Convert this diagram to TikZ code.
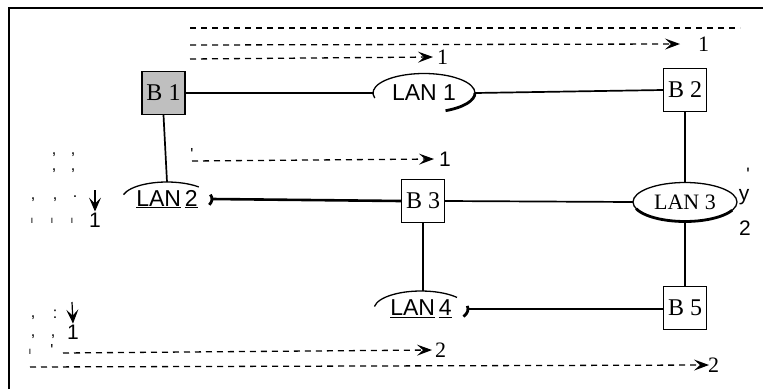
\documentclass[tikz,border=0pt]{standalone}
\usepackage{fontspec}
\setmainfont{Liberation Serif}
\newfontfamily\lsans{Liberation Sans}
\usetikzlibrary{arrows.meta,shapes.geometric}
\begin{document}
\begin{tikzpicture}[x=1pt,y=1pt,
  bridge/.style={draw,line width=1.2pt,minimum width=43pt,minimum height=43pt,inner sep=0pt,font=\fontsize{24}{24}\selectfont},
  lannode/.style={ellipse,inner sep=0pt},
  thinarc/.style={line width=1.3pt},
  thickarc/.style={line width=2.8pt},
  link/.style={line width=1.7pt},
  heavylink/.style={line width=2.6pt},
  dashline/.style={line width=1.3pt,dash pattern=on 6pt off 5pt},
  dasharrow/.style={dashline,-{Stealth[length=15pt,width=11pt,inset=6pt]}},
  numlbl/.style={inner sep=1pt,font=\fontsize{22}{22}\selectfont},
  snumlbl/.style={inner sep=1pt,font=\lsans\fontsize{21}{21}\selectfont},
  speck/.style={inner sep=0pt,font=\lsans\fontsize{16}{16}\selectfont},
  varrow/.style={line width=1.2pt,-{Stealth[length=14pt,width=12pt,inset=6pt]}},
  lanfont/.style={font=\lsans\fontsize{23}{23}\selectfont},
]
\useasboundingbox (0,0) rectangle (763,-389);
% frame
\draw[line width=1.5pt] (9,-389) -- (9,-8) -- (763,-8);

% bridges
\node[bridge,fill=gray!50] (b1) at (163.5,-93) {B 1};
\node[bridge] (b2) at (685,-90) {B 2};
\node[bridge] (b3) at (423,-201) {B 3};
\node[bridge] (b5) at (685,-308) {B 5};

% LANs
\node[lannode,lanfont,minimum width=102pt,minimum height=39pt] (lan1) at (424,-93) {LAN 1};
\node[lannode,lanfont,minimum width=90pt,minimum height=34pt] (lan2) at (167,-199) {\underline{LAN}\,\underline{2}};
\node[lannode,minimum width=104pt,minimum height=39pt,font=\fontsize{22}{22}\selectfont] (lan3) at (685,-202) {LAN 3};
\node[lannode,lanfont,minimum width=94pt,minimum height=36pt] (lan4) at (421,-309) {\underline{LAN}\,\underline{4}};

% LAN outlines
\draw[thinarc] ([shift={(195:51pt and 19.5pt)}]lan1.center) arc[start angle=195,end angle=0,x radius=51pt,y radius=19.5pt];
\draw[thickarc] ([shift={(0:51pt and 19.5pt)}]lan1.center) arc[start angle=0,end angle=-65,x radius=51pt,y radius=19.5pt];
\draw[thinarc] ([shift={(165:45pt and 17pt)}]lan2.center) arc[start angle=165,end angle=45,x radius=45pt,y radius=17pt];
\draw[thickarc] ([shift={(15:45pt and 17pt)}]lan2.center) arc[start angle=15,end angle=-20,x radius=45pt,y radius=17pt];
\draw[thinarc] (lan3.center) ellipse[x radius=52pt,y radius=19.5pt];
\draw[thickarc] ([shift={(200:52pt and 19.5pt)}]lan3.center) arc[start angle=200,end angle=335,x radius=52pt,y radius=19.5pt];
\draw[thinarc] ([shift={(172:47pt and 18pt)}]lan4.center) arc[start angle=172,end angle=40,x radius=47pt,y radius=18pt];
\draw[thickarc] ([shift={(10:47pt and 18pt)}]lan4.center) arc[start angle=10,end angle=-25,x radius=47pt,y radius=18pt];

% links
\draw[heavylink] (b1.east) -- (lan1.west);
\draw[link] (lan1.east) -- (b2.west);
\draw[link] (b1.south) -- (lan2.north);
\draw[heavylink] (lan2.east) -- (b3.west);
\draw[link] (b3.east) -- (lan3.west);
\draw[link] (b2.south) -- (lan3.north);
\draw[link] (b3.south) -- (b3.south |- lan4.north);
\draw[link] (lan4.east) -- (lan4.east -| b5.west);
\draw[link] (lan3.south) -- (b5.north);

% dashed paths
\coordinate (d1s) at (190,-28);
\coordinate (d1e) at (740,-28);
\draw[dashline] (d1s) -- (d1e);

\coordinate (d2s) at (190,-45);
\node[numlbl,anchor=west] (n2) at (697,-44) {1};
\draw[dasharrow] (d2s) -- (n2.west -| 680,0);

\coordinate (d3s) at (190,-59);
\node[numlbl,anchor=west] (n3) at (436,-57) {1};
\draw[dasharrow] (d3s) -- (n3.west -| 433,0);

\coordinate (d4s) at (192,-161);
\node[snumlbl,anchor=west] (n4) at (438,-159) {1};
\draw[dasharrow] (d4s) -- (n4.west -| 434,0);
\node[speck] at (192,-154) {'};

\coordinate (d5s) at (63,-353);
\node[numlbl,anchor=west] (n5) at (434,-350) {2};
\draw[dasharrow] (d5s) -- (n5.west -| 432,0);

\coordinate (d6s) at (30,-367);
\node[numlbl,anchor=west] (n6) at (707,-365) {2};
\draw[dasharrow] (d6s) -- (n6.west -| 709,0);

% vertical arrows on the left
\coordinate (v1s) at (95,-190);
\node[snumlbl] (v1l) at (95,-220) {1};
\draw[varrow] (v1s) -- (v1l.north);
\coordinate (v2s) at (72,-302);
\node[snumlbl] (v2l) at (73,-332) {1};
\draw[varrow] (v2s) -- (v2l.north);

% stray marks
\node[speck] at (54,-155) {,};
\node[speck] at (73,-155) {,};
\node[speck] at (54,-171) {,};
\node[speck] at (73,-171) {,};
\node[speck] at (33,-200) {,};
\node[speck] at (55,-200) {,};
\node[speck] at (75,-197) {.};
\node[speck,font=\lsans\fontsize{10}{10}\selectfont] at (32,-221) {ı};
\node[speck,font=\lsans\fontsize{10}{10}\selectfont] at (52,-221) {ı};
\node[speck,font=\lsans\fontsize{10}{10}\selectfont] at (72,-221) {ı};
\node[speck] at (33,-318) {,};
\node[speck] at (55,-314) {:};
\node[speck] at (33,-337) {,};
\node[speck] at (53,-337) {,};
\node[speck,font=\lsans\fontsize{10}{10}\selectfont] at (30,-352) {ı};
\node[speck] at (52,-350) {'};

% marks beside LAN 3
\node[speck,font=\lsans\fontsize{18}{18}\selectfont] at (748,-174) {'};
\node[speck,font=\lsans\fontsize{21}{21}\selectfont] at (744,-197) {y};
\node[snumlbl] at (745,-228) {2};
\end{tikzpicture}
\end{document}
